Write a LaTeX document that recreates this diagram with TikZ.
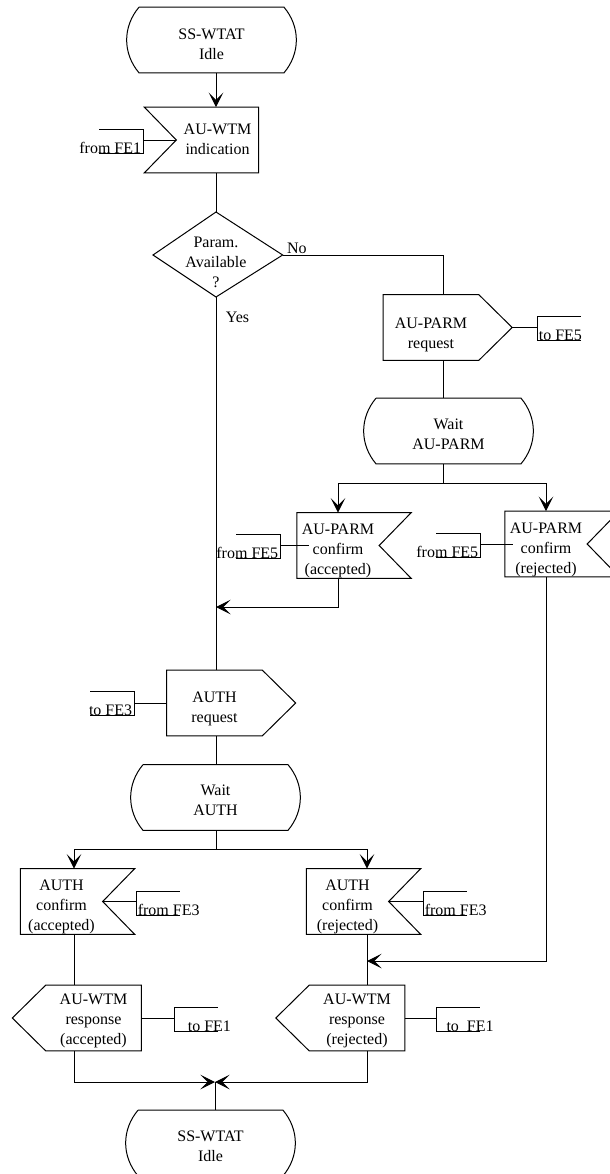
\documentclass[tikz,border=0pt]{standalone}
\usepackage{fontspec}
\setmainfont{Liberation Serif}
\usetikzlibrary{arrows.meta}

\tikzset{
  sdl/.style={inner sep=0pt, minimum height=48.5pt, font=\fontsize{12}{15}\selectfont},
  statebox/.style={sdl, minimum width=108pt},
  inbox/.style={sdl, minimum width=61pt},
  outbox/.style={sdl, minimum width=71pt},
  cmt/.style={inner sep=1pt, font=\fontsize{12}{15}\selectfont},
}

% centred lines, set a little low in the symbol
\newcommand{\lw}[2][3pt]{\raisebox{-#1}[\height][\depth]{\begin{tabular}{@{}c@{}}#2\end{tabular}}}
% outlines drawn round the named nodes
\newcommand{\stbox}[1]{\draw (#1.north west) -- (#1.north east) to[bend left=40] (#1.south east) -- (#1.south west) to[bend left=40] (#1.north west);}
\newcommand{\inboxL}[1]{\draw ([xshift=-24pt]#1.north west) -- (#1.north east) -- (#1.south east) -- ([xshift=-24pt]#1.south west) -- (#1.west) -- cycle;}
\newcommand{\inboxR}[1]{\draw (#1.north west) -- ([xshift=24pt]#1.north east) -- (#1.east) -- ([xshift=24pt]#1.south east) -- (#1.south west) -- cycle;}
\newcommand{\outboxR}[1]{\draw (#1.north west) -- (#1.north east) -- ([xshift=25pt]#1.east) -- (#1.south east) -- (#1.south west) -- cycle;}
\newcommand{\outboxL}[1]{\draw (#1.north west) -- (#1.north east) -- (#1.south east) -- (#1.south west) -- ([xshift=-25pt]#1.west) -- cycle;}
% comment brackets
\newcommand{\brkL}[1]{\draw ([xshift=-33pt]#1.base east) -- (#1.base east) -- ([yshift=18pt]#1.base east) -- ([xshift=-33pt,yshift=18pt]#1.base east);}
\newcommand{\brkR}[1]{\draw ([xshift=33pt]#1.base west) -- (#1.base west) -- ([yshift=18pt]#1.base west) -- ([xshift=33pt,yshift=18pt]#1.base west);}

\begin{document}
\begin{tikzpicture}[x=0.75pt, y=-0.75pt, >={Stealth[length=11pt,width=11pt,inset=5.5pt]}, line width=0.75pt]
\useasboundingbox (0,0) rectangle (610,1174);

    % States
    \node[statebox] (st1) at (211.5,40) {\lw[4pt]{SS-WTAT\\Idle}};    \stbox{st1}
    \node[statebox] (wA) at (448.5,431) {\lw{Wait\\AU-PARM}};         \stbox{wA}
    \node[statebox] (wB) at (215.5,797.5) {\lw{Wait\\AUTH}};          \stbox{wB}
    \node[statebox] (st2) at (210.5,1143) {\lw{SS-WTAT\\Idle}};       \stbox{st2}

    % Input signals
    \node[inbox] (ind) at (217.5,140) {\lw[0pt]{AU-WTM\\indication}};            \inboxL{ind}
    \node[inbox] (conA) at (338,545.5) {\lw[4pt]{AU-PARM\\confirm\\(accepted)}}; \inboxR{conA}
    \node[inbox] (conR) at (546,544) {\lw[4pt]{AU-PARM\\confirm\\(rejected)}};   \inboxR{conR}
    \node[inbox] (acA) at (61.5,901.5) {\lw[4pt]{AUTH\\confirm\\(accepted)}};    \inboxR{acA}
    \node[inbox] (acR) at (347.5,901.5) {\lw[4pt]{AUTH\\confirm\\(rejected)}};   \inboxR{acR}

    % Output signals
    \node[outbox] (req1) at (431,327.5) {\lw[5pt]{AU-PARM\\request}};            \outboxR{req1}
    \node[outbox] (aReq) at (214.5,703) {\lw[4pt]{AUTH\\request}};               \outboxR{aReq}
    \node[outbox] (rsA) at (93.5,1018) {\lw[2pt]{AU-WTM\\response\\(accepted)}}; \outboxL{rsA}
    \node[outbox] (rsR) at (357,1018) {\lw[2pt]{AU-WTM\\response\\(rejected)}};  \outboxL{rsR}

    % Decision
    \node[sdl] (par) at (216,263) {\lw[0pt]{Param.\\Available\\?}};
    \coordinate (parN) at ([yshift=38.25pt]par.center);
    \coordinate (parS) at ([yshift=-25.5pt]par.center);
    \coordinate (parE) at ([xshift=50pt,yshift=6pt]par.center);
    \coordinate (parW) at ([xshift=-47.25pt,yshift=6pt]par.center);
    \draw (parN) -- (parE) -- (parS) -- (parW) -- cycle;
    \node[cmt, anchor=south west] (no) at ([xshift=2pt]parE) {No};
    \node[cmt, anchor=west] (yes) at ([xshift=6pt,yshift=-15pt]parS) {Yes};

    % Columns and junctions
    \coordinate (colS) at (216,0);
    \coordinate (colP) at (443,0);
    \coordinate (colL) at (74,0);
    \coordinate (colR) at (367,0);
    \coordinate (brA) at (443,483);
    \coordinate (jA) at (216,607);
    \coordinate (brB) at (216,849);
    \coordinate (jR) at (367,961);
    \coordinate (jm) at (215,1082);

    % Flow lines
    \draw[->] (st1.south -| colS) -- (ind.north -| colS);
    \draw (ind.south -| colS) -- (parN);
    \draw (parE) -| (req1.north -| colP);
    \draw (req1.south -| colP) -- (wA.north -| colP);
    \draw (wA.south -| colP) -- (brA);
    \draw[->] (brA) -| (conA.north);
    \draw[->] (brA) -| (conR.north);
    \draw[->] (conA.south) |- (jA);
    \draw (parS) -- (aReq.north -| colS);
    \draw (aReq.south -| colS) -- (wB.north -| colS);
    \draw (wB.south -| colS) -- (brB);
    \draw[->] (brB) -| (acA.north -| colL);
    \draw[->] (brB) -| (acR.north -| colR);
    \draw (acA.south -| colL) -- (rsA.north -| colL);
    \draw (acR.south -| colR) -- (rsR.north -| colR);
    \draw[->] (conR.south) |- (jR);
    \draw[->] (rsA.south -| colL) |- (jm);
    \draw[->] (rsR.south -| colR) |- (jm);
    \draw (jm) -- (st2.north -| jm);

    % Comments
    \node[cmt, anchor=base east] (c1) at (143,153) {from FE1};   \brkL{c1}
    \draw (ind.west) -- (ind.west -| c1.base east);
    \node[cmt, anchor=base west] (c2) at (537,340) {to FE5};     \brkR{c2}
    \draw ([xshift=25pt]req1.east) -- (req1.east -| c2.base west);
    \node[cmt, anchor=base east] (c3) at (280,558) {from FE5};   \brkL{c3}
    \draw ([xshift=9pt]conA.west) -- (conA.west -| c3.base east);
    \node[cmt, anchor=base east] (c4) at (480,557) {from FE5};   \brkL{c4}
    \draw ([xshift=6pt]conR.west) -- (conR.west -| c4.base east);
    \node[cmt, anchor=base east] (c5) at (134,715) {to FE3};     \brkL{c5}
    \draw (aReq.west) -- (aReq.west -| c5.base east);
    \node[cmt, anchor=base west] (c6) at (136,915) {from FE3};   \brkR{c6}
    \draw (acA.east) -- (acA.east -| c6.base west);
    \node[cmt, anchor=base west] (c7) at (423,915) {from FE3};   \brkR{c7}
    \draw (acR.east) -- (acR.east -| c7.base west);
    \node[cmt, anchor=base west] (c8) at (174,1031) {\hspace{9pt}to FE1};          \brkR{c8}
    \draw (rsA.east) -- (rsA.east -| c8.base west);
    \node[cmt, anchor=base west] (c9) at (436,1031) {\hspace{6.5pt}to\ \ FE1};     \brkR{c9}
    \draw (rsR.east) -- (rsR.east -| c9.base west);

\end{tikzpicture}
\end{document}
